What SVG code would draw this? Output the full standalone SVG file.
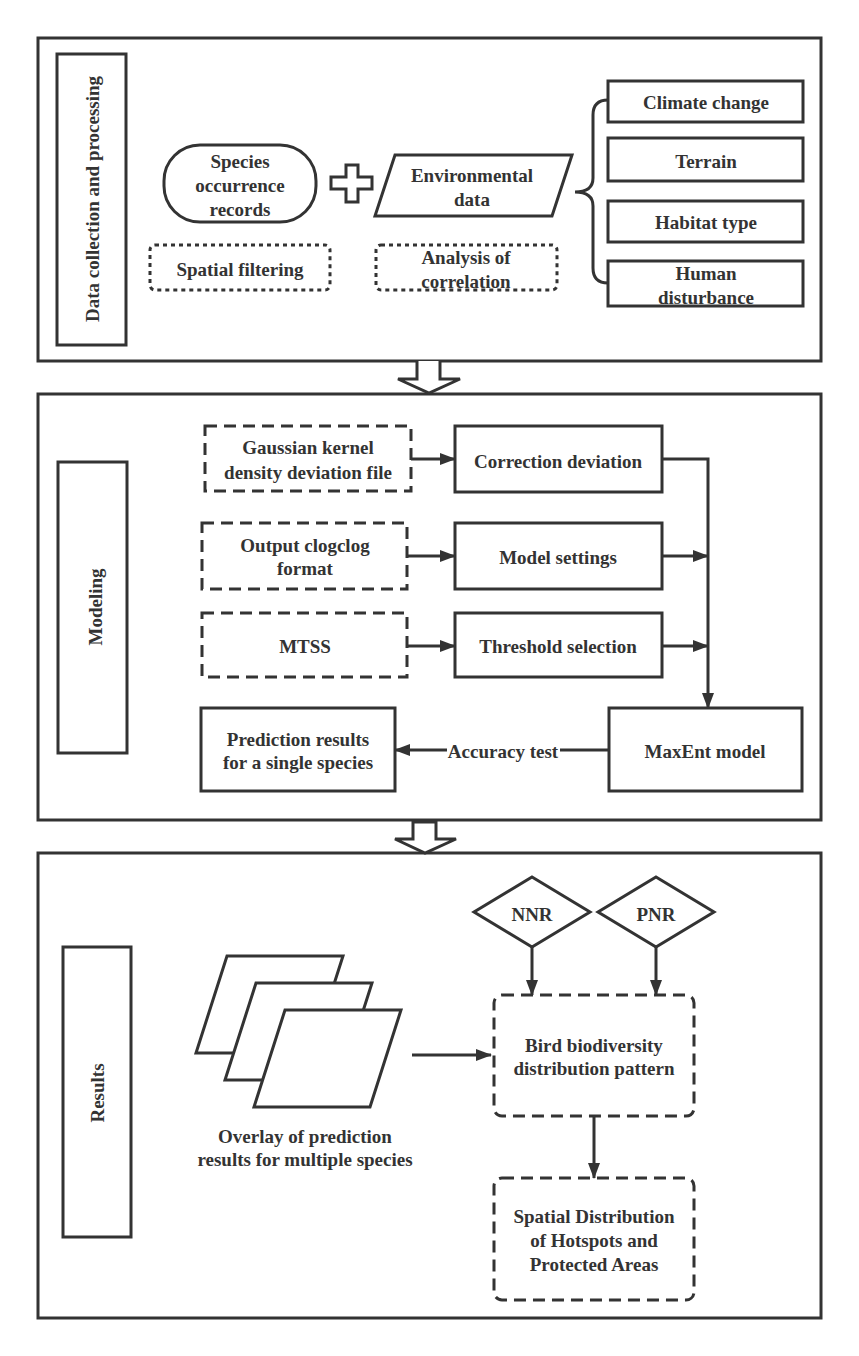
<svg xmlns="http://www.w3.org/2000/svg" width="859" height="1356" viewBox="0 0 859 1356" font-family="Liberation Serif, Times New Roman, serif">
<defs>
<style>
text{font-family:'Liberation Serif','Times New Roman',Times,serif;font-weight:700;font-size:19px;fill:#333;text-anchor:middle;dominant-baseline:central}
.box{fill:#fff;stroke:#333;stroke-width:3}
.panel{fill:#fff;stroke:#333;stroke-width:3}
.dash{fill:#fff;stroke:#333;stroke-width:3;stroke-dasharray:12 7}
.dot{fill:#fff;stroke:#333;stroke-width:3;stroke-dasharray:4 4}
.ln{fill:none;stroke:#333;stroke-width:3}
.hollow{fill:#fff;stroke:#333;stroke-width:3;stroke-linejoin:miter}
</style>
<marker id="ah" markerWidth="16" markerHeight="12" refX="15" refY="6" orient="auto" markerUnits="userSpaceOnUse">
<path d="M0,0 L16,6 L0,12 Z" fill="#333"/>
</marker>
</defs>

<!-- Panels -->
<g id="panel1"><rect class="panel" x="38" y="38" width="783" height="323"/></g>
<g id="panel2"><rect class="panel" x="38" y="394" width="783" height="426"/></g>
<g id="panel3"><rect class="panel" x="38" y="853" width="783" height="465"/></g>

<!-- Hollow arrows between panels -->
<g id="hollow-arrows">
<path class="hollow" d="M417,361 L417,379 L398,379 L429,393 L460,379 L440,379 L440,361"/>
<path class="hollow" d="M413,822 L413,839 L395,839 L425,853 L456,839 L436,839 L436,822 Z"/>
</g>

<!-- Panel 1 nodes -->
<g id="label-data"><rect class="box" x="57" y="54" width="69" height="291"/>
<text transform="translate(92,199) rotate(-90)">Data collection and processing</text></g>

<g id="species"><rect class="box" x="164" y="145" width="152" height="77" rx="36" ry="36"/>
<text x="240" y="161">Species</text><text x="240" y="185">occurrence</text><text x="240" y="209">records</text></g>

<g id="plus"><path class="box" d="M346,165 L358,165 L358,177 L372,177 L372,189 L358,189 L358,202 L346,202 L346,189 L331,189 L331,177 L346,177 Z"/></g>

<g id="env"><polygon class="box" points="395,155 572,155 552,216 375,216"/>
<text x="472" y="175">Environmental</text><text x="472" y="199">data</text></g>

<g id="spatial-filter"><rect class="dot" x="150" y="245" width="180" height="45" rx="5"/>
<text x="240" y="269">Spatial filtering</text></g>

<g id="correlation"><rect class="dot" x="376" y="245" width="181" height="45" rx="5"/>
<text x="466" y="257">Analysis of</text><text x="466" y="281">correlation</text></g>

<g id="brace"><path class="ln" d="M608,100 Q593,100 593,115 L593,178 Q593,192 575,192 Q593,192 593,206 L593,268 Q593,283 608,283"/></g>

<g id="climate"><rect class="box" x="608" y="81" width="195" height="41"/><text x="706" y="102">Climate change</text></g>
<g id="terrain"><rect class="box" x="608" y="138" width="195" height="43"/><text x="706" y="161">Terrain</text></g>
<g id="habitat"><rect class="box" x="608" y="201" width="195" height="41"/><text x="706" y="222">Habitat type</text></g>
<g id="human"><rect class="box" x="608" y="261" width="195" height="45"/><text x="706" y="273">Human</text><text x="706" y="297">disturbance</text></g>

<!-- Panel 2 nodes -->
<g id="label-modeling"><rect class="box" x="58" y="462" width="69" height="291"/>
<text transform="translate(95,607) rotate(-90)">Modeling</text></g>

<g id="gaussian"><rect class="dash" x="205" y="426" width="206" height="65"/>
<text x="308" y="447">Gaussian kernel</text><text x="308" y="472">density deviation file</text></g>
<g id="correction"><rect class="box" x="455" y="426" width="207" height="66"/><text x="558" y="461">Correction deviation</text></g>

<g id="clogclog"><rect class="dash" x="202" y="523" width="205" height="66"/>
<text x="305" y="545">Output clogclog</text><text x="305" y="568">format</text></g>
<g id="model-settings"><rect class="box" x="455" y="523" width="207" height="66"/><text x="558" y="557">Model settings</text></g>

<g id="mtss"><rect class="dash" x="202" y="613" width="205" height="64"/><text x="305" y="646">MTSS</text></g>
<g id="threshold"><rect class="box" x="455" y="613" width="207" height="64"/><text x="558" y="646">Threshold selection</text></g>

<g id="maxent"><rect class="box" x="609" y="708" width="193" height="83"/><text x="705" y="751">MaxEnt model</text></g>
<g id="prediction"><rect class="box" x="201" y="708" width="194" height="83"/>
<text x="298" y="739">Prediction results</text><text x="298" y="762">for a single species</text></g>

<!-- Panel 3 nodes -->
<g id="label-results"><rect class="box" x="63" y="947" width="68" height="290"/>
<text transform="translate(97,1093) rotate(-90)">Results</text></g>

<g id="layers">
<polygon class="box" points="227,956 343,956 312,1053 196,1053"/>
<polygon class="box" points="256,983 372,983 341,1080 225,1080"/>
<polygon class="box" points="285,1010 401,1010 370,1107 254,1107"/>
<text x="305" y="1136">Overlay of prediction</text><text x="305" y="1159">results for multiple species</text>
</g>

<g id="nnr"><polygon class="box" points="532,877 590,912 532,947 474,912"/><text x="532" y="914">NNR</text></g>
<g id="pnr"><polygon class="box" points="656,877 714,912 656,947 598,912"/><text x="656" y="914">PNR</text></g>

<g id="bird"><rect class="dash" x="494" y="995" width="200" height="121" rx="8"/>
<text x="594" y="1045">Bird biodiversity</text><text x="594" y="1068">distribution pattern</text></g>

<g id="hotspots"><rect class="dash" x="494" y="1178" width="200" height="122" rx="8"/>
<text x="594" y="1216">Spatial Distribution</text><text x="594" y="1240">of Hotspots and</text><text x="594" y="1264">Protected Areas</text></g>

<!-- Connectors -->
<g id="connectors">
<line class="ln" x1="411" y1="459" x2="455" y2="459" marker-end="url(#ah)"/>
<line class="ln" x1="407" y1="556" x2="455" y2="556" marker-end="url(#ah)"/>
<line class="ln" x1="407" y1="646" x2="455" y2="646" marker-end="url(#ah)"/>
<polyline class="ln" points="662,459 708,459 708,708" marker-end="url(#ah)"/>
<line class="ln" x1="662" y1="556" x2="708" y2="556" marker-end="url(#ah)"/>
<line class="ln" x1="662" y1="646" x2="708" y2="646" marker-end="url(#ah)"/>
<line class="ln" x1="609" y1="750" x2="560" y2="750"/>
<line class="ln" x1="447" y1="750" x2="395" y2="750" marker-end="url(#ah)"/>
<text x="503" y="751">Accuracy test</text>
<line class="ln" x1="532" y1="947" x2="532" y2="995" marker-end="url(#ah)"/>
<line class="ln" x1="656" y1="947" x2="656" y2="995" marker-end="url(#ah)"/>
<line class="ln" x1="412" y1="1055" x2="491" y2="1055" marker-end="url(#ah)"/>
<line class="ln" x1="594" y1="1116" x2="594" y2="1178" marker-end="url(#ah)"/>
</g>
</svg>
